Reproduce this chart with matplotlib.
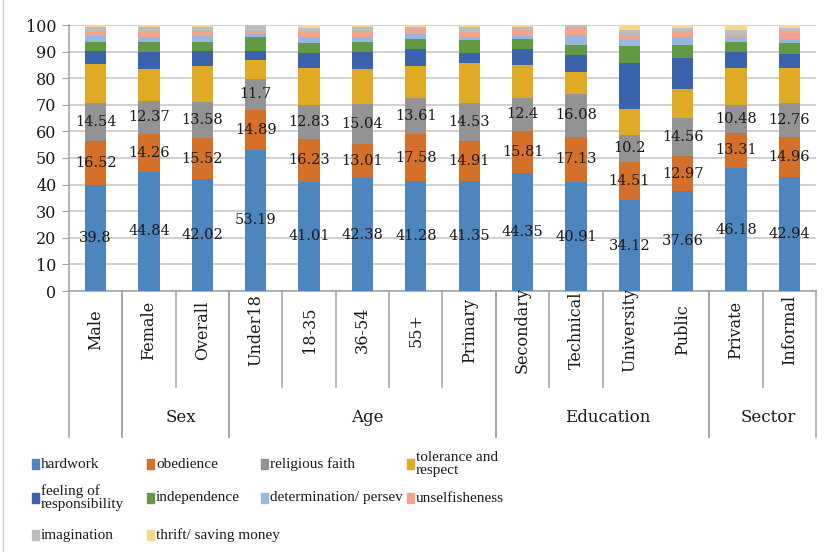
import numpy as np
import matplotlib
matplotlib.use('Agg')
from matplotlib import pyplot as plt
from matplotlib.patches import Rectangle
from matplotlib.lines import Line2D
import matplotlib.transforms as mtransforms

# categories along the x axis and their groups
categories = ['Male', 'Female', 'Overall', 'Under18', '18-35', '36-54', '55+',
              'Primary', 'Secondary', 'Technical', 'University', 'Public',
              'Private', 'Informal']
group_names = ['', 'Sex', 'Age', 'Education', 'Sector']
group_start = [0, 1, 3, 8, 12]
group_end = [0, 2, 7, 11, 13]

# percentages per value
hardwork = [39.8, 44.84, 42.02, 53.19, 41.01, 42.38, 41.28, 41.35, 44.35, 40.91, 34.12, 37.66, 46.18, 42.94]
obedience = [16.52, 14.26, 15.52, 14.89, 16.23, 13.01, 17.58, 14.91, 15.81, 17.13, 14.51, 12.97, 13.31, 14.96]
religious = [14.54, 12.37, 13.58, 11.7, 12.83, 15.04, 13.61, 14.53, 12.4, 16.08, 10.2, 14.56, 10.48, 12.76]
tolerance = [14.5, 12.0, 13.5, 7.1, 13.8, 13.1, 12.3, 15.0, 12.4, 8.3, 9.7, 10.8, 13.8, 13.1]
responsibility = [4.8, 6.4, 5.6, 3.3, 5.6, 6.4, 6.3, 3.8, 6.0, 6.4, 17.3, 11.6, 6.1, 5.4]
independence = [3.5, 3.8, 3.4, 5.3, 3.6, 3.7, 3.8, 4.9, 3.8, 3.8, 6.4, 4.9, 3.8, 4.0]
determination = [2.3, 1.8, 2.3, 1.2, 2.3, 1.8, 1.9, 1.0, 1.1, 3.8, 2.3, 2.9, 1.8, 1.6]
unselfishness = [1.9, 2.2, 1.9, 0.9, 2.1, 2.4, 1.9, 2.0, 2.4, 2.8, 1.6, 2.1, 0.6, 2.9]
imagination = [1.4, 1.4, 1.4, 2.5, 1.5, 1.3, 0.6, 1.6, 0.9, 1.0, 2.1, 1.4, 2.1, 1.4]
thrift = [0.9, 1.0, 0.9, 0.0, 1.0, 0.9, 0.9, 1.0, 0.9, 0.0, 1.9, 1.1, 1.9, 1.0]

series_names = ['hardwork', 'obedience', 'religious faith', 'tolerance and\nrespect',
                'feeling of\nresponsibility', 'independence', 'determination/ persev',
                'unselfisheness', 'imagination', 'thrift/ saving money']
series_values = [hardwork, obedience, religious, tolerance, responsibility,
                 independence, determination, unselfishness, imagination, thrift]
colors = ['#4d85bf', '#d5702b', '#939393', '#e1aa24', '#3963ad',
          '#619a42', '#96b8df', '#f2a58a', '#bdbdbd', '#fdd688']
labelled = 3  # first three series carry data labels

plt.rcParams['font.family'] = 'DejaVu Serif'

W, H = 828, 552
fig = plt.figure(figsize=(W / 100, H / 100), dpi=100)
ax = fig.add_axes([69 / W, 1 - 291 / H, (816 - 69) / W, 266 / H])

x = np.arange(len(categories))
bottom = np.zeros(len(categories))
for k, (vals, col) in enumerate(zip(series_values, colors)):
    vals = np.array(vals)
    ax.bar(x, vals, 0.4, bottom=bottom, color=col, zorder=3)
    if k < labelled:
        for i, v in enumerate(vals):
            ax.text(i, bottom[i] + v / 2, f'{v:g}', ha='center', va='center',
                    fontsize=10.5, color='#1a1a1a', zorder=4)
    bottom += vals

ax.set_xlim(-0.5, len(categories) - 0.5)
ax.set_ylim(0, 100)
ax.set_yticks(np.arange(0, 101, 10))
ax.yaxis.grid(True, color='#c4c4c4', lw=1.1, zorder=0)
ax.tick_params(axis='y', direction='out', length=5, color='#a0a0a0',
               labelsize=11.5, pad=4, labelcolor='#1a1a1a')
ax.set_xticks([])
for s in ['top', 'right']:
    ax.spines[s].set_visible(False)
for s in ['left', 'bottom']:
    ax.spines[s].set_color('#a0a0a0')
    ax.spines[s].set_linewidth(1.1)

# category labels and the two-level separators below the axis
trans = mtransforms.blended_transform_factory(ax.transData, ax.transAxes)
for i, name in enumerate(categories):
    ax.text(i, -0.147, name, rotation=90, ha='center', va='center',
            fontsize=11.5, color='#1a1a1a', transform=trans)

full_depth = -146 / 266
short_depth = -96 / 266
no_line = [10]  # no separator between University and Public
for gs, ge, gname in zip(group_start, group_end, group_names):
    for edge in [gs - 0.5, ge + 0.5]:
        ax.plot([edge, edge], [0, full_depth], color='#a0a0a0', lw=1.1,
                transform=trans, clip_on=False)
    for i in range(gs, ge):
        if i not in no_line:
            ax.plot([i + 0.5, i + 0.5], [0, short_depth], color='#a0a0a0', lw=1.1,
                    transform=trans, clip_on=False)
    if gname:
        ax.text((gs + ge) / 2 + 0.1, -0.474, gname, ha='center', va='center',
                fontsize=12, color='#1a1a1a', transform=trans)

# legend laid out as a 4 column grid
col_px = [32, 147, 261, 407]
row_px = [464, 498, 535]
for k, (name, col) in enumerate(zip(series_names, colors)):
    r, c = divmod(k, 4)
    px, py = col_px[c], row_px[r]
    fig.add_artist(Rectangle((px / W, 1 - (py + 5) / H), 7 / W, 10 / H,
                             transform=fig.transFigure, color=col))
    fig.text((px + 9) / W, 1 - py / H, name, ha='left', va='center',
             fontsize=11, family='Liberation Serif', linespacing=1.0,
             color='#1a1a1a')

fig.add_artist(Line2D([3.5 / W, 3.5 / W], [0, 1], color='#d0d0d0', lw=1,
                      transform=fig.transFigure))

fig.savefig('out.png', dpi=100)
